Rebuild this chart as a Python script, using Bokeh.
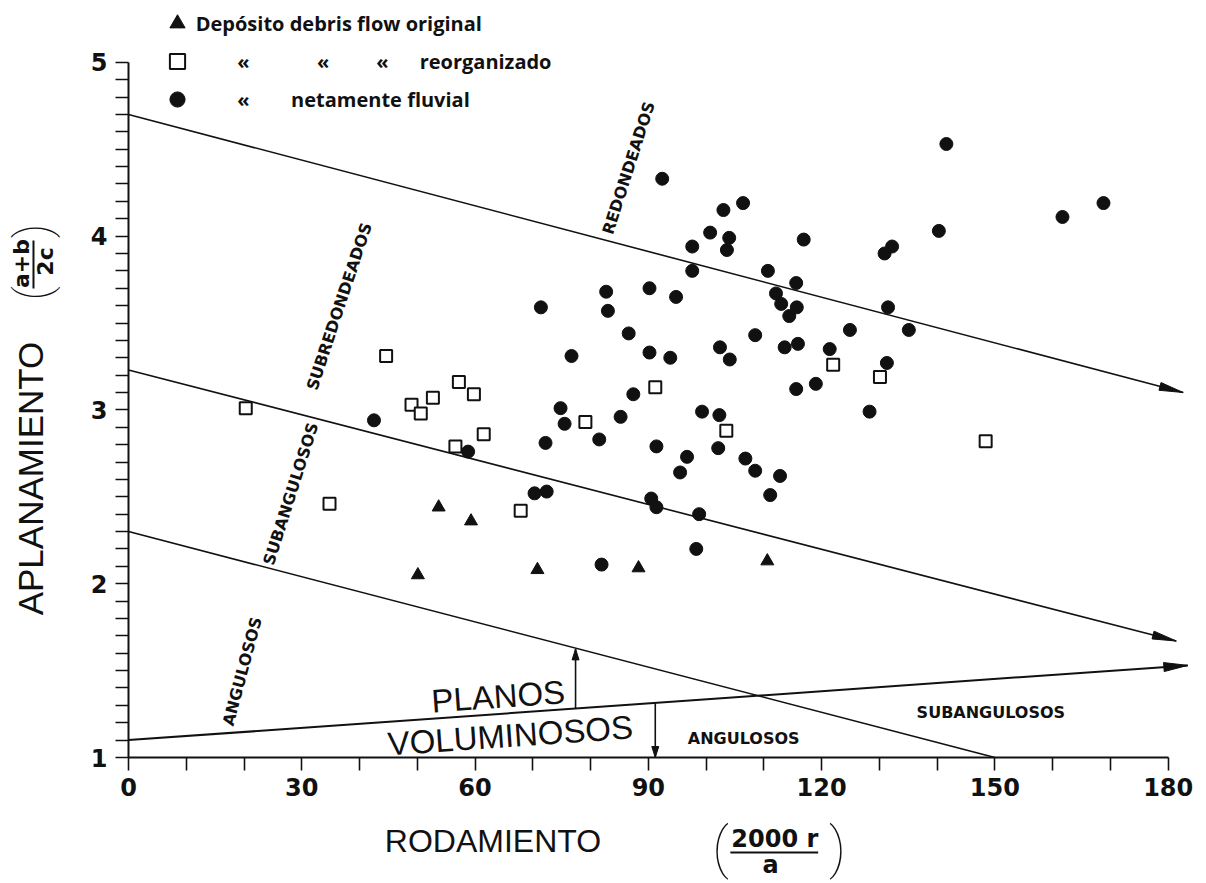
import math
from bokeh.plotting import figure
from bokeh.layouts import column, row
from bokeh.models import Range1d, FixedTicker, Legend, LegendItem
from bokeh.core.properties import value
from bokeh.embed import file_html
from bokeh.resources import INLINE

# ---------------- data ----------------
# Depósito debris flow original (triangles)
tri_x = [50.1, 53.7, 59.3, 70.8, 88.3, 110.6]
tri_y = [2.05, 2.44, 2.36, 2.08, 2.09, 2.13]

# Depósito debris flow reorganizado (open squares)
sq_x = [20.3, 44.6, 49.0, 50.6, 52.7, 57.2, 59.8, 61.5, 56.6, 34.8, 67.9,
        79.1, 91.2, 103.5, 122.0, 130.1, 148.4]
sq_y = [3.01, 3.31, 3.03, 2.98, 3.07, 3.16, 3.09, 2.86, 2.79, 2.46, 2.42,
        2.93, 3.13, 2.88, 3.26, 3.19, 2.82]

# Depósito netamente fluvial (filled circles)
ci_x = [92.4, 103.0, 106.4, 100.7, 104.0, 97.6, 103.6, 116.9, 141.6, 140.3,
        132.2, 130.9, 97.6, 110.7, 115.6, 112.1, 113.0, 115.7, 114.4, 131.5,
        82.7, 83.0, 90.2, 94.8, 86.6, 76.7, 90.2, 93.8, 102.4, 104.1,
        108.5, 113.6, 115.9, 121.4, 124.9, 135.1, 131.3, 119.0, 115.6, 87.4,
        168.8, 161.7, 128.3, 74.8, 75.5, 85.2, 72.2, 81.5, 91.4, 99.3,
        102.3, 102.1, 96.7, 95.5, 106.8, 108.5, 112.8, 111.1, 70.3, 72.4,
        90.5, 91.4, 98.8, 98.3, 81.9, 71.4, 58.8, 42.5]
ci_y = [4.33, 4.15, 4.19, 4.02, 3.99, 3.94, 3.92, 3.98, 4.53, 4.03,
        3.94, 3.90, 3.80, 3.80, 3.73, 3.67, 3.61, 3.59, 3.54, 3.59,
        3.68, 3.57, 3.70, 3.65, 3.44, 3.31, 3.33, 3.30, 3.36, 3.29,
        3.43, 3.36, 3.38, 3.35, 3.46, 3.46, 3.27, 3.15, 3.12, 3.09,
        4.19, 4.11, 2.99, 3.01, 2.92, 2.96, 2.81, 2.83, 2.79, 2.99,
        2.97, 2.78, 2.73, 2.64, 2.72, 2.65, 2.62, 2.51, 2.52, 2.53,
        2.49, 2.44, 2.40, 2.20, 2.11, 3.59, 2.76, 2.94]

# roundness class boundaries (start / end of each line)
bound_x0 = [0.0, 0.0, 0.0]
bound_y0 = [4.70, 3.23, 2.30]
bound_x1 = [182.6, 181.4, 150.0]
bound_y1 = [3.10, 1.67, 1.00]
bound_arrow = [True, True, False]

# planos / voluminosos boundary
flat_x = [0.0, 183.4]
flat_y = [1.10, 1.53]

# small vertical arrows (x, y_from, y_to)
varrow_x = [77.4, 91.2]
varrow_y0 = [1.282, 1.314]
varrow_y1 = [1.625, 1.0]

# axis ticks
x_major = [0, 30, 60, 90, 120, 150, 180]
x_minor = [10, 20, 40, 50, 70, 80, 100, 110, 130, 140, 160, 170]
y_major = [1, 2, 3, 4, 5]
y_minor = [round(1 + 0.1 * i, 1) for i in range(41) if i % 10]

NB = "\u00a0"
legend_labels = [
    "Depósito debris flow original",
    NB * 8 + "«" + NB * 13 + "«" + NB * 9 + "«" + NB * 6 + "reorganizado",
    NB * 8 + "«" + NB * 8 + "netamente fluvial",
]

# ---------------- layout ----------------
TOTAL_W, TOTAL_H = 1200, 883
LEFT_W = 64            # width of the y-title strip
AXIS_LEFT = 64         # room for y tick labels in the main figure
FRAME_W, FRAME_H = 1067, 757
MAIN_H = 812
PX_X = 5.776           # pixels per x unit
PX_Y = 173.8           # pixels per y unit
X_END = FRAME_W / PX_X
Y_END = 1 + FRAME_H / PX_Y
INK = "#111111"

y_rng = Range1d(1, Y_END)
p = figure(width=TOTAL_W - LEFT_W, height=MAIN_H, x_range=Range1d(0, X_END), y_range=y_rng,
           output_backend="svg", toolbar_location=None,
           min_border_left=AXIS_LEFT, min_border_right=TOTAL_W - LEFT_W - AXIS_LEFT - FRAME_W,
           min_border_top=0, min_border_bottom=MAIN_H - FRAME_H)
p.title.visible = False
p.outline_line_color = None
p.grid.visible = False

for ax, major, minor, bounds in ((p.xaxis[0], x_major, x_minor, (0, 180)),
                                 (p.yaxis[0], y_major, y_minor, (1, 5))):
    ax.ticker = FixedTicker(ticks=major, minor_ticks=minor)
    ax.bounds = bounds
    ax.axis_line_width = 2
    ax.axis_line_color = INK
    ax.major_tick_in = 0
    ax.minor_tick_in = 0
    ax.major_tick_out = 13
    ax.minor_tick_out = 13
    ax.major_tick_line_width = 1.6
    ax.minor_tick_line_width = 1.6
    ax.major_tick_line_color = INK
    ax.minor_tick_line_color = INK
    ax.major_label_text_font = "DejaVu Sans"
    ax.major_label_text_font_style = "bold"
    ax.major_label_text_font_size = "24px"
    ax.major_label_text_color = INK
p.xaxis[0].major_label_standoff = 7
p.yaxis[0].major_label_standoff = 8


def head(xt, yt, xf, yf, length, half):
    dxp = (xt - xf) * PX_X
    dyp = (yt - yf) * PX_Y
    n = math.hypot(dxp, dyp)
    ux, uy = dxp / n, dyp / n
    bx, by = -ux * length, -uy * length
    qx, qy = -uy * half, ux * half
    xs = [xt, xt + (bx + qx) / PX_X, xt + (bx - qx) / PX_X]
    ys = [yt, yt + (by + qy) / PX_Y, yt + (by - qy) / PX_Y]
    return xs, ys


# boundary lines
p.segment(x0=bound_x0, y0=bound_y0, x1=bound_x1, y1=bound_y1, line_color=INK, line_width=1.6)
p.line(x=flat_x, y=flat_y, line_color=INK, line_width=2.0)
p.segment(x0=varrow_x, y0=varrow_y0, x1=varrow_x, y1=varrow_y1, line_color=INK, line_width=1.6)

hx, hy = [], []
for x0, y0, x1, y1, a in zip(bound_x0, bound_y0, bound_x1, bound_y1, bound_arrow):
    if a:
        xs, ys = head(x1, y1, x0, y0, 24, 4)
        hx.append(xs); hy.append(ys)
xs, ys = head(flat_x[1], flat_y[1], flat_x[0], flat_y[0], 24, 4.5)
hx.append(xs); hy.append(ys)
for x, y0, y1 in zip(varrow_x, varrow_y0, varrow_y1):
    xs, ys = head(x, y1, x, y0, 11, 3.5)
    hx.append(xs); hy.append(ys)
p.patches(xs=hx, ys=hy, fill_color=INK, line_color=INK, line_width=1)

# data points
r_tri = p.scatter(tri_x, tri_y, marker="triangle", size=13, fill_color=INK, line_color=INK)
r_sq = p.scatter(sq_x, sq_y, marker="square", size=12, fill_color="white", line_color=INK, line_width=2)
r_ci = p.scatter(ci_x, ci_y, marker="circle", size=13, fill_color=INK, line_color=INK)

# region labels
reg_text = ["REDONDEADOS", "SUBREDONDEADOS", "SUBANGULOSOS", "ANGULOSOS", "ANGULOSOS", "SUBANGULOSOS"]
reg_x = [86.6, 36.5, 28.1, 19.7, 106.5, 149.3]
reg_y = [4.392, 3.595, 2.517, 1.495, 1.112, 1.259]
reg_a = [1.260, 1.250, 1.262, 1.309, 0.0, 0.0]
p.text(x=reg_x, y=reg_y, text=reg_text, angle=reg_a, text_font=value("DejaVu Sans"),
       text_font_style="bold", text_font_size="16px", text_align="center",
       text_baseline="middle", text_color=INK)

p.text(x=[64.0, 66.1], y=[1.351, 1.127], text=["PLANOS", "VOLUMINOSOS"], angle=[0.07, 0.07],
       text_font=value("Liberation Sans"), text_font_size="33px", text_align="center",
       text_baseline="middle", text_color=INK)

# legend
legend = Legend(items=[LegendItem(label=legend_labels[0], renderers=[r_tri]),
                       LegendItem(label=legend_labels[1], renderers=[r_sq]),
                       LegendItem(label=legend_labels[2], renderers=[r_ci])],
                location=(29.7, FRAME_H - 4.3 - 114), padding=0, margin=0, spacing=0,
                glyph_width=38, glyph_height=38, label_height=38, label_standoff=0,
                border_line_color=None, background_fill_alpha=0,
                label_text_font="Open Sans", label_text_font_style="bold",
                label_text_font_size="20px", label_text_color=INK)
p.add_layout(legend)


def blank(width, height, xr, yr):
    f = figure(width=width, height=height, x_range=xr, y_range=yr, output_backend="svg",
               toolbar_location=None, x_axis_type=None, y_axis_type=None,
               min_border=0, min_border_left=0, min_border_right=0,
               min_border_top=0, min_border_bottom=0)
    f.title.visible = False
    f.outline_line_color = None
    f.grid.visible = False
    return f


def txt(f, x, y, text, font, size, style="normal", angle=0.0):
    f.text(x=[x], y=[y], text=[text], angle=[angle], text_font=value(font),
           text_font_size=size, text_font_style=style, text_align="center",
           text_baseline="middle", text_color=INK)


# left strip: y title with fraction (shares the y scale of the main plot)
x0_left = -(LEFT_W + AXIS_LEFT) / PX_X
pl = blank(LEFT_W, MAIN_H, Range1d(x0_left, -AXIS_LEFT / PX_X), y_rng)
pl.min_border_bottom = MAIN_H - FRAME_H
R = math.pi / 2
txt(pl, -17.05, 2.605, "APLANAMIENTO", "Liberation Sans", "35px", angle=R)
txt(pl, -18.61, 3.842, "a+b", "DejaVu Sans", "22px", "bold", angle=R)
txt(pl, -14.37, 3.854, "2c", "DejaVu Sans", "22px", "bold", angle=R)
pl.segment(x0=[-16.45], y0=[3.975], x1=[-16.45], y1=[3.698], line_color=INK, line_width=2)
txt(pl, -16.62, 3.67, "(", "Roboto Thin", "48px", angle=R)
txt(pl, -16.62, 4.03, ")", "Roboto Thin", "48px", angle=R)

# bottom strip: x title with fraction (same x scale as the main plot)
pb_h = TOTAL_H - MAIN_H
pb = blank(TOTAL_W, pb_h,
           Range1d(x0_left, x0_left + TOTAL_W / PX_X),
           Range1d(1 - (TOTAL_H - FRAME_H) / PX_Y, 1 - (MAIN_H - FRAME_H) / PX_Y))
txt(pb, 63.1, 0.517, "RODAMIENTO", "Liberation Sans", "32px")
txt(pb, 111.9, 0.531, "2000 r", "DejaVu Sans", "24px", "bold")
txt(pb, 111.15, 0.379, "a", "DejaVu Sans", "24px", "bold")
pb.segment(x0=[104.2], y0=[0.453], x1=[119.4], y1=[0.453], line_color=INK, line_width=2)
txt(pb, 102.5, 0.479, "(", "Roboto Thin", "56px")
txt(pb, 122.75, 0.479, ")", "Roboto Thin", "56px")

layout = column(row(pl, p, spacing=0), pb, spacing=0)
open("out.html", "w").write(file_html(layout, INLINE))
